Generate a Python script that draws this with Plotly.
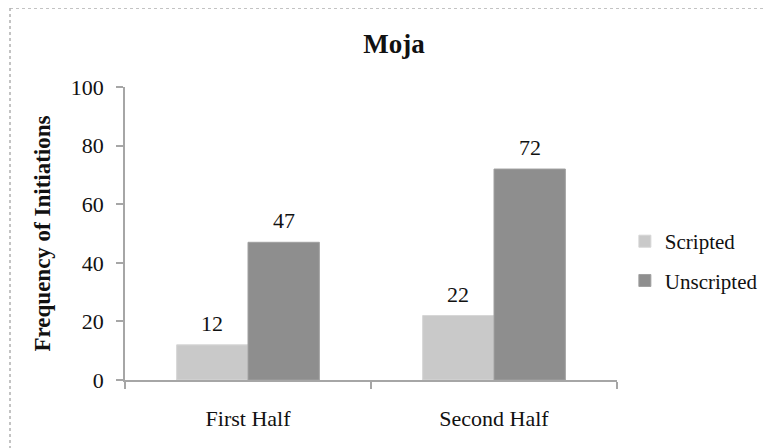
import plotly.graph_objects as go

categories = ["First Half", "Second Half"]
scripted = [12, 22]
unscripted = [47, 72]
y_ticks = [0, 20, 40, 60, 80, 100]

serif = "Liberation Serif, Times New Roman, serif"
BARGAP = 0.42

fig = go.Figure()
fig.add_trace(go.Bar(
    x=categories, y=scripted, name="Scripted",
    marker=dict(color="#c9c9c9", line=dict(color="#d6d6d6", width=1)),
    legendgroup="a",
))
fig.add_trace(go.Bar(
    x=categories, y=unscripted, name="Unscripted",
    marker=dict(color="#8e8e8e", line=dict(color="#a0a0a0", width=1)),
    legendgroup="b",
))

# value labels above bars (positions derived from category index and bar layout)
half = (1 - BARGAP) / 4
for series, sign in ((scripted, -1), (unscripted, 1)):
    for i, v in enumerate(series):
        fig.add_annotation(x=i + sign * half, y=v, xref="x", yref="y",
                           text=str(v), showarrow=False, yanchor="bottom",
                           yshift=7, font=dict(family=serif, size=22, color="#111"))

fig.update_layout(
    width=772, height=448,
    margin=dict(l=117, r=163, t=79, b=76),
    paper_bgcolor="white", plot_bgcolor="white",
    font=dict(family=serif, color="#111", size=21),
    title=dict(text="<b>Moja</b>", x=0.5, xanchor="center", y=0.92, yanchor="middle",
               font=dict(family=serif, size=27, color="#111")),
    barmode="group", bargap=BARGAP, bargroupgap=0,
    showlegend=True,
    legend=dict(x=1.016, xanchor="left", y=0.406, yanchor="middle",
                font=dict(family=serif, size=21, color="#111"),
                traceorder="grouped", tracegroupgap=9,
                itemwidth=30, bgcolor="rgba(0,0,0,0)"),
)
fig.update_yaxes(
    range=[0, 100], tickvals=y_ticks, showgrid=False, zeroline=False,
    showline=True, linecolor="#a6a6a6", linewidth=1.5,
    ticks="outside", ticklen=7, tickcolor="#a6a6a6", tickwidth=1.5,
    tickfont=dict(family=serif, size=22, color="#111"),
    ticklabelstandoff=8,
    title=dict(text="<b>Frequency of Initiations</b>", standoff=14,
               font=dict(family=serif, size=23, color="#111")),
)
fig.update_xaxes(
    showgrid=False, zeroline=False, showline=True, linecolor="#a6a6a6", linewidth=1.5,
    ticks="outside", tickson="boundaries", ticklen=7, tickcolor="#a6a6a6", tickwidth=1.5,
    tickfont=dict(family=serif, size=22, color="#111"),
    ticklabelstandoff=18,
)

# chart frame (top and left edges visible)
L, T, W, H = 117, 79, 492, 293
fy = (H + T - 0) / H
fx = (2 - L) / W
fig.add_shape(type="line", xref="paper", yref="paper",
              x0=fx, x1=(800 - L) / W, y0=fy, y1=fy,
              line=dict(color="#b0b0b0", width=1.5, dash="dot"))
fig.add_shape(type="line", xref="paper", yref="paper",
              x0=fx, x1=fx, y0=fy, y1=(H + T - 460) / H,
              line=dict(color="#b0b0b0", width=1.5, dash="dot"))

fig.write_html("out.html")
